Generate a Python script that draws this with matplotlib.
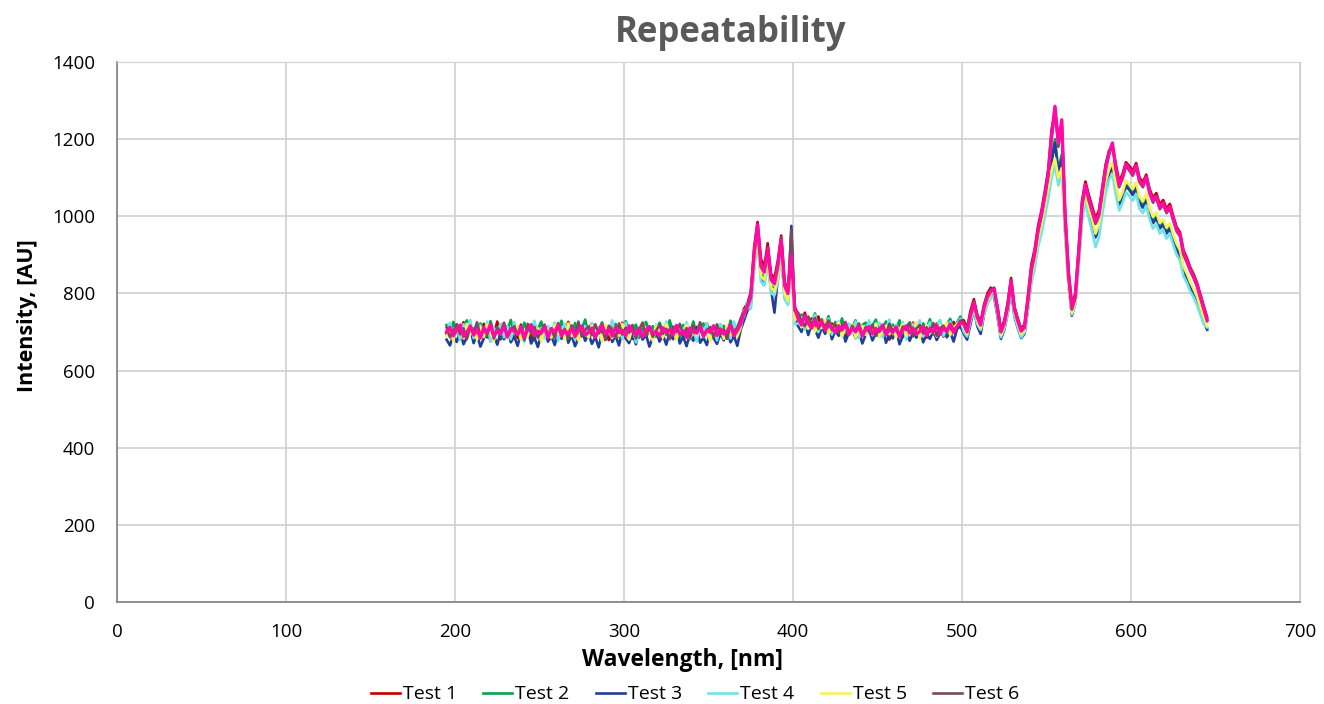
import numpy as np
import matplotlib
matplotlib.use("Agg")
import matplotlib.pyplot as plt

plt.rcParams['font.family'] = ['Open Sans', 'DejaVu Sans']

test_1 = [
    695, 710, 682, 716, 699, 725, 688, 704, 679, 712, 697, 721, 686, 708, 693, 727, 681, 705, 714, 690,
    702, 684, 719, 696, 709, 678, 713, 700, 723, 687, 706, 692, 718, 683, 710, 698, 726, 689, 703, 680,
    715, 694, 707, 722, 685, 711, 696, 701, 679, 717, 704, 688, 724, 693, 709, 682, 714, 699, 720, 687,
    705, 691, 712, 678, 708, 697, 725, 684, 703, 716, 690, 706, 681, 719, 695, 710, 686, 722, 698, 704,
    680, 713, 692, 707, 721, 685, 700,
    730, 760, 775, 800,
    920, 985, 890, 870, 930, 850, 840, 885, 950, 830, 810, 910, 765,
    745, 725, 750, 715, 735, 705, 740, 712, 728, 700, 722, 708, 695, 725, 690, 715, 703, 720, 686, 710,
    698, 718, 684, 705, 722, 692, 712, 680, 708, 696, 719, 687, 710, 699, 724, 690, 706, 716, 685, 712,
    694, 722, 704, 688, 716, 700, 726, 710, 732,
    730, 710, 755, 785, 745, 725, 770, 800, 815, 800, 765, 705, 730, 775, 840, 765, 735, 708, 720,
    795, 875, 915, 975, 1015, 1065, 1120, 1225, 1270, 1200, 1240,
    1010, 860, 770, 800, 915,
    1040, 1090, 1055, 1025, 995, 1015, 1075, 1135, 1170, 1180, 1135, 1090, 1110, 1140, 1130, 1118, 1138,
    1100, 1088, 1108, 1070, 1048, 1060, 1030, 1042, 1020, 1032, 1000, 972, 958, 912, 892, 868, 850, 828,
    798, 768, 738,
]
test_2 = [
    718, 692, 726, 701, 684, 715, 730, 696, 709, 687, 722, 703, 690, 728, 698, 712, 685, 719, 706, 731,
    693, 710, 688, 724, 700, 716, 683, 707, 727, 695, 713, 689, 720, 702, 729, 691, 711, 686, 723, 699,
    708, 732, 694, 717, 684, 705, 725, 697, 714, 688, 721, 701, 690, 728, 706, 693, 719, 685, 710, 726,
    698, 715, 687, 724, 703, 692, 730, 700, 713, 684, 718, 705, 696, 727, 689, 711, 722, 694, 707, 683,
    720, 699, 716, 690, 729, 702, 712,
    715, 745, 770, 785,
    880, 955, 850, 840, 900, 820, 810, 850, 920, 800, 785, 880, 740,
    728, 745, 712, 738, 720, 748, 705, 733, 716, 741, 702, 726, 710, 735, 697, 720, 713, 730, 695, 718,
    724, 700, 716, 732, 692, 711, 727, 698, 719, 706, 730, 694, 713, 725, 701, 717, 690, 722, 708, 733,
    696, 715, 728, 703, 720, 734, 706, 724, 740,
    705, 690, 730, 765, 725, 700, 750, 780, 795, 805, 745, 688, 712, 752, 820, 745, 715, 690, 700,
    765, 840, 880, 935, 975, 1020, 1070, 1150, 1200, 1120, 1160,
    970, 830, 748, 780, 885,
    1005, 1055, 1015, 985, 950, 970, 1030, 1080, 1115, 1130, 1075, 1035, 1055, 1085, 1075, 1062, 1080,
    1042, 1030, 1050, 1012, 990, 1002, 975, 985, 962, 975, 945, 920, 905, 862, 845, 822, 805, 785,
    758, 730, 705,
]
test_3 = [
    680, 665, 692, 674, 701, 668, 686, 710, 671, 694, 662, 683, 705, 676, 690, 667, 699, 681, 712, 673,
    688, 664, 696, 678, 707, 670, 685, 661, 693, 703, 675, 689, 666, 700, 682, 714, 672, 691, 663, 684,
    706, 677, 695, 669, 687, 660, 698, 679, 709, 674, 690, 665, 702, 683, 671, 697, 668, 711, 680, 693,
    662, 686, 704, 675, 692, 667, 699, 681, 708, 670, 688, 663, 695, 677, 713, 672, 685, 666, 701, 684,
    669, 696, 678, 705, 673, 690, 664,
    705, 730, 755, 770,
    870, 950, 845, 830, 890, 810, 750, 840, 915, 790, 775, 975, 735,
    715, 700, 728, 692, 720, 706, 685, 712, 695, 722, 681, 703, 690, 714, 675, 698, 708, 684, 700, 670,
    693, 705, 678, 697, 688, 712, 672, 695, 683, 706, 668, 690, 701, 677, 699, 685, 710, 673, 694, 682,
    704, 679, 696, 712, 686, 700, 675, 707, 715,
    695, 680, 720, 760, 715, 695, 745, 775, 800, 790, 740, 682, 705, 748, 812, 740, 710, 684, 695,
    760, 835, 875, 930, 970, 1015, 1065, 1140, 1190, 1110, 1150,
    965, 825, 742, 775, 880,
    1000, 1050, 1010, 980, 945, 965, 1025, 1075, 1110, 1125, 1070, 1030, 1048, 1078, 1068, 1055, 1072,
    1035, 1022, 1042, 1005, 982, 995, 968, 978, 955, 968, 938, 912, 898, 855, 838, 815, 798, 778,
    752, 725, 708,
]
test_4 = [
    705, 724, 688, 712, 679, 720, 696, 731, 684, 708, 717, 691, 727, 675, 710, 699, 722, 686, 714, 681,
    726, 693, 707, 674, 719, 702, 729, 689, 711, 683, 716, 697, 725, 677, 706, 721, 690, 713, 680, 728,
    700, 715, 685, 723, 694, 709, 676, 718, 703, 730, 687, 712, 682, 724, 698, 717, 673, 708, 726, 692,
    714, 679, 720, 704, 688, 727, 696, 711, 684, 719, 701, 725, 690, 706, 675, 716, 699, 722, 686, 710,
    678, 721, 695, 713, 683, 727, 700,
    725, 740, 780, 760,
    860, 930, 830, 820, 875, 800, 795, 830, 895, 785, 770, 870, 720,
    722, 738, 705, 730, 712, 744, 700, 725, 716, 735, 693, 717, 728, 688, 710, 722, 696, 727, 684, 712,
    705, 730, 691, 715, 724, 686, 709, 732, 697, 718, 703, 726, 680, 712, 721, 694, 730, 688, 706, 725,
    699, 716, 731, 690, 708, 727, 701, 719, 735,
    700, 688, 728, 758, 720, 705, 745, 772, 788, 796, 742, 686, 708, 746, 815, 742, 712, 686, 698,
    755, 825, 865, 920, 955, 1000, 1045, 1100, 1130, 1080, 1110,
    950, 815, 745, 770, 870,
    990, 1040, 995, 960, 920, 945, 1005, 1060, 1095, 1110, 1055, 1015, 1035, 1062, 1052, 1040, 1058,
    1020, 1008, 1028, 992, 968, 980, 955, 965, 942, 955, 925, 900, 885, 845, 828, 805, 790, 770,
    745, 720, 712,
]
test_5 = [
    690, 708, 676, 715, 698, 684, 721, 693, 705, 680, 712, 687, 719, 700, 677, 709, 694, 723, 683, 706,
    697, 716, 679, 703, 688, 720, 692, 710, 675, 714, 701, 685, 718, 695, 707, 681, 722, 689, 704, 678,
    713, 699, 686, 717, 693, 708, 676, 719, 702, 684, 711, 690, 721, 697, 680, 714, 688, 706, 725, 694,
    703, 677, 716, 700, 685, 720, 692, 709, 679, 712, 696, 718, 683, 707, 691, 723, 687, 704, 675, 715,
    699, 710, 682, 717, 694, 705, 688,
    710, 755, 760, 795,
    875, 945, 845, 835, 890, 815, 805, 845, 910, 800, 780, 875, 730,
    740, 712, 735, 708, 728, 700, 722, 710, 731, 695, 715, 704, 725, 688, 712, 698, 720, 685, 708, 716,
    692, 710, 701, 722, 687, 704, 716, 694, 711, 685, 706, 720, 690, 713, 698, 725, 683, 709, 717, 696,
    712, 688, 718, 705, 724, 692, 711, 720, 728,
    712, 694, 735, 770, 730, 710, 755, 782, 798, 806, 750, 692, 715, 758, 825, 752, 720, 694, 705,
    770, 845, 885, 940, 980, 1025, 1075, 1120, 1150, 1100, 1125,
    960, 820, 750, 778, 878,
    1010, 1060, 1020, 990, 955, 978, 1038, 1090, 1122, 1140, 1085, 1042, 1062, 1092, 1082, 1070, 1088,
    1050, 1038, 1058, 1020, 998, 1010, 982, 992, 970, 982, 952, 928, 912, 870, 852, 830, 812, 792,
    765, 738, 715,
]
test_6 = [
    712, 686, 703, 720, 694, 709, 681, 716, 698, 725, 689, 706, 693, 718, 683, 711, 700, 724, 687, 704,
    715, 692, 708, 679, 721, 697, 713, 685, 702, 719, 690, 710, 684, 723, 699, 707, 682, 717, 695, 726,
    688, 705, 714, 691, 720, 696, 709, 680, 716, 701, 685, 722, 693, 711, 698, 718, 683, 706, 724, 690,
    712, 687, 703, 719, 695, 708, 681, 714, 700, 721, 692, 710, 684, 717, 697, 725, 689, 704, 713, 686,
    718, 694, 707, 682, 720, 699, 711,
    735, 750, 770, 805,
    900, 970, 875, 860, 920, 840, 830, 875, 945, 825, 805, 965, 755,
    750, 728, 715, 740, 720, 736, 708, 725, 714, 730, 705, 720, 698, 712, 726, 694, 716, 702, 722, 689,
    713, 700, 719, 690, 708, 716, 695, 721, 703, 710, 692, 714, 705, 722, 688, 709, 718, 696, 712, 700,
    723, 690, 710, 716, 698, 721, 705, 713, 730,
    725, 705, 748, 780, 742, 722, 768, 795, 810, 815, 762, 703, 726, 770, 835, 762, 730, 705, 716,
    780, 858, 900, 960, 1000, 1050, 1105, 1200, 1275, 1180, 1235,
    995, 845, 758, 788, 900,
    1025, 1078, 1040, 1010, 980, 1000, 1060, 1120, 1160, 1185, 1120, 1075, 1098, 1130, 1118, 1105, 1128,
    1088, 1075, 1098, 1058, 1035, 1048, 1018, 1030, 1008, 1020, 988, 960, 948, 900, 880, 858, 840, 818,
    788, 758, 728,
]
# bright pink trace drawn on top (no legend entry in the original)
overlay = [
    700, 712, 690, 705, 718, 688, 699, 715, 692, 707, 684, 711, 698, 720, 689, 703, 695, 716, 687, 709,
    701, 693, 714, 686, 706, 719, 691, 702, 697, 713, 685, 708, 700, 717, 690, 704, 694, 711, 688, 706,
    715, 692, 699, 710, 686, 703, 718, 695, 707, 689, 712, 698, 704, 690, 716, 701, 693, 709, 687, 705,
    714, 696, 702, 688, 711, 699, 706, 692, 717, 694, 703, 686, 710, 700, 697, 713, 689, 705, 699, 716,
    691, 708, 695, 702, 718, 690, 704,
    720, 748, 765, 790,
    905, 978, 870, 855, 915, 835, 825, 870, 940, 820, 800, 900, 760,
    735, 718, 742, 722, 710, 731, 715, 727, 704, 720, 712, 698, 716, 705, 721, 693, 710, 700, 715, 690,
    706, 714, 695, 709, 701, 718, 692, 707, 699, 713, 688, 705, 716, 697, 710, 694, 702, 715, 691, 708,
    700, 717, 695, 711, 703, 720, 698, 714, 725,
    720, 700, 742, 775, 738, 718, 762, 790, 805, 812, 758, 700, 722, 765, 832, 760, 728, 702, 712,
    785, 862, 905, 965, 1005, 1055, 1110, 1210, 1285, 1190, 1250,
    1000, 850, 762, 792, 905,
    1030, 1082, 1045, 1015, 985, 1005, 1065, 1125, 1165, 1190, 1125, 1080, 1102, 1135, 1122, 1110, 1132,
    1092, 1080, 1102, 1062, 1040, 1052, 1022, 1035, 1012, 1025, 992, 965, 952, 905, 885, 862, 843, 822,
    792, 762, 732,
]

labels = ['Test 1', 'Test 2', 'Test 3', 'Test 4', 'Test 5', 'Test 6']
series = [test_1, test_2, test_3, test_4, test_5, test_6]
colors = ['#C00000', '#00A651', '#1F3F99', '#6FE3EA', '#F7F25A', '#7B4A5A']

fig = plt.figure(figsize=(13.24, 7.04), dpi=100)
ax = fig.add_axes([0.0884, 0.145, 0.8935, 0.767])

for s, lab, c in zip(series, labels, colors):
    wl = np.linspace(195, 645, len(s))
    ax.plot(wl, s, color=c, lw=1.9, label=lab)
ax.plot(np.linspace(195, 645, len(overlay)), overlay, color='#FF0AA5', lw=2.4, label='_nolegend_')

ax.set_xlim(0, 700)
ax.set_ylim(0, 1400)
ax.set_xticks(range(0, 701, 100))
ax.set_yticks(range(0, 1401, 200))
ax.grid(True, color='#D0D0D0', lw=1.2)
ax.set_axisbelow(True)
ax.tick_params(length=0, labelsize=13.5, colors='#000000')
ax.tick_params(axis='y', pad=16)
ax.tick_params(axis='x', pad=15)
for side in ['top', 'right']:
    ax.spines[side].set_color('#D0D0D0')
for side in ['left', 'bottom']:
    ax.spines[side].set_color('#808080')
    ax.spines[side].set_linewidth(1.2)

ax.set_xlabel('Wavelength, [nm]', fontsize=16.5, fontweight='bold')
ax.xaxis.set_label_coords(0.478, -0.085)
ax.set_ylabel('Intensity, [AU]', fontsize=15.5, fontweight='bold')
ax.yaxis.set_label_coords(-0.067, 0.53)
fig.text(0.552, 0.953, 'Repeatability', ha='center', va='center',
         fontsize=25, fontweight='bold', color='#595959')

fig.legend(loc='lower center', bbox_to_anchor=(0.525, -0.024), ncol=6, frameon=False,
           fontsize=14, handlelength=1.5, handletextpad=0.15, columnspacing=1.35)

fig.savefig('out.png', dpi=100)
